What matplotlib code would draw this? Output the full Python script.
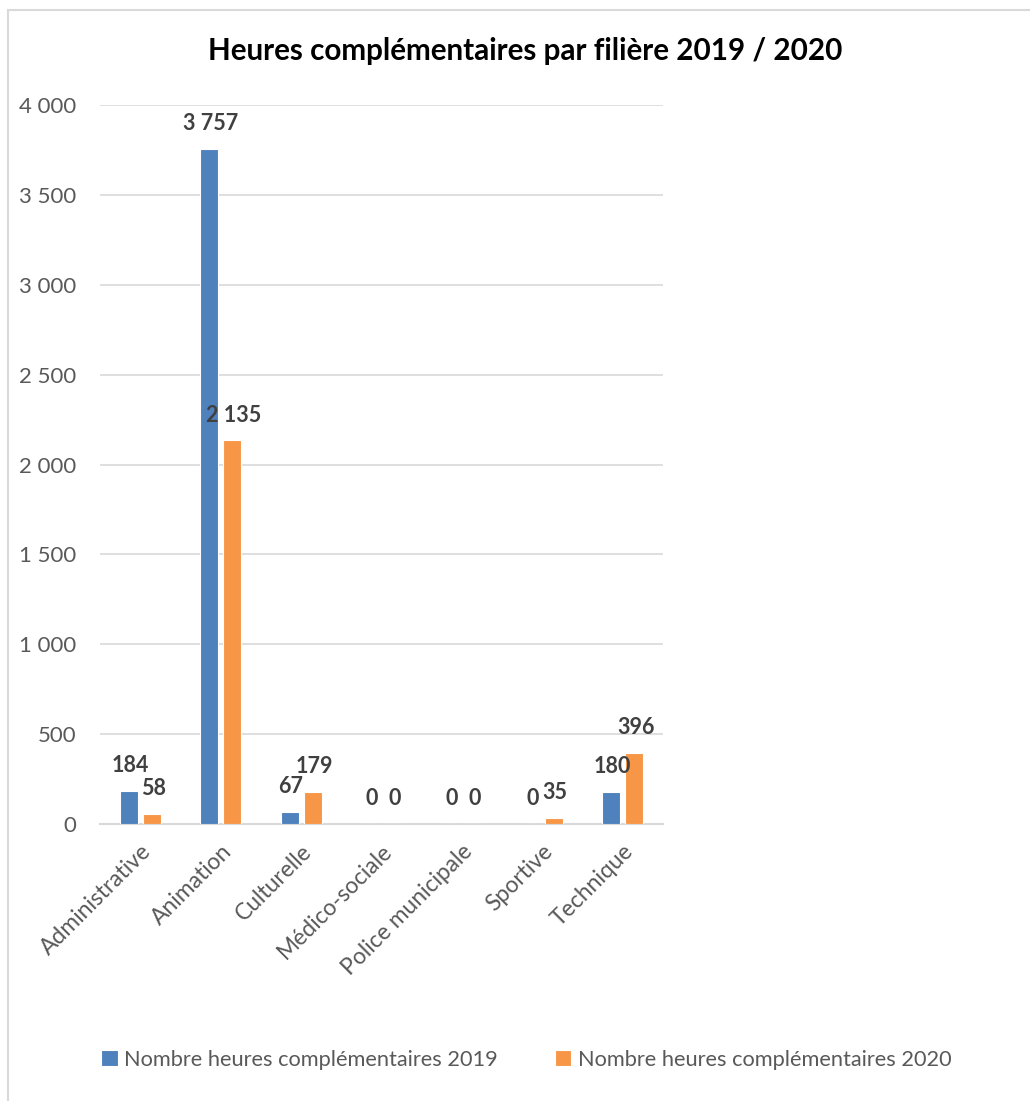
import matplotlib.pyplot as plt
import numpy as np
from matplotlib.patches import Rectangle

# ────────────────────────────────────────────────
#  Data
# ────────────────────────────────────────────────
filieres = ["Administrative", "Animation", "Culturelle", "Médico-sociale",
            "Police municipale", "Sportive", "Technique"]
heures_2019 = [184, 3757, 67, 0, 0, 0, 180]
heures_2020 = [58, 2135, 179, 0, 0, 35, 396]
series_labels = ["Nombre heures complémentaires 2019",
                 "Nombre heures complémentaires 2020"]
y_ticks = [0, 500, 1000, 1500, 2000, 2500, 3000, 3500, 4000]

title = "Heures complémentaires par filière 2019 / 2020"

blue = "#4f81bd"
orange = "#f79646"
grey_txt = "#595959"
label_txt = "#404040"
grid_col = "#d9d9d9"


def fmt(v):
    # French thousands separator (space)
    return f"{v:,.0f}".replace(",", " ")


plt.rcParams['font.family'] = ['Lato', 'DejaVu Sans']

fig = plt.figure(figsize=(10.3, 11.01), dpi=100)
ax = fig.add_axes([0.0971, 0.2516, 0.5466, 0.6530])

x = np.arange(len(filieres))
w = 0.224
off = 0.143

b1 = ax.bar(x - off, heures_2019, w, color=blue, edgecolor="white",
            linewidth=0.8, label=series_labels[0], zorder=3)
b2 = ax.bar(x + off, heures_2020, w, color=orange, edgecolor="white",
            linewidth=0.8, label=series_labels[1], zorder=3)

for bars, vals in ((b1, heures_2019), (b2, heures_2020)):
    for rect, v in zip(bars, vals):
        ax.annotate(fmt(v), (rect.get_x() + rect.get_width() / 2, v),
                    xytext=(1, 18), textcoords="offset points",
                    ha="center", va="center", fontsize=15.5, fontweight="bold",
                    color=label_txt, zorder=4)

ax.set_xlim(-0.5, len(filieres) - 0.5)
ax.set_ylim(0, 4000)
ax.set_yticks(y_ticks)
ax.set_yticklabels([fmt(t) for t in y_ticks], fontsize=16, color=grey_txt)
ax.tick_params(axis="y", length=0, pad=17)
ax.set_xticks(x)
ax.set_xticklabels(filieres, rotation=45, ha="right", rotation_mode="anchor",
                   fontsize=16.5, color=grey_txt)
ax.tick_params(axis="x", length=0, pad=12)

ax.grid(axis="y", color=grid_col, linewidth=1.2, zorder=0)
for s in ["top", "right", "left"]:
    ax.spines[s].set_visible(False)
ax.spines["bottom"].set_color(grid_col)
ax.spines["bottom"].set_linewidth(1.5)

fig.text(0.51, 0.954, title, ha="center", va="center",
         fontsize=21.3, fontweight="bold", color="black")

leg = fig.legend(handles=[b1, b2], labels=series_labels, loc="center",
                 bbox_to_anchor=(0.511, 0.0375), ncol=2, frameon=False,
                 fontsize=15.7, handlelength=0.75, handleheight=0.75,
                 handletextpad=0.3, columnspacing=2.6, labelcolor=grey_txt)

# chart area border (only top and left visible in the crop)
fig.patches.append(Rectangle((8 / 1030, -0.1), 1.2, 1 - 10 / 1101 + 0.1,
                             transform=fig.transFigure, fill=False,
                             edgecolor="#d9d9d9", linewidth=1.5))

fig.savefig("out.png", dpi=100)
